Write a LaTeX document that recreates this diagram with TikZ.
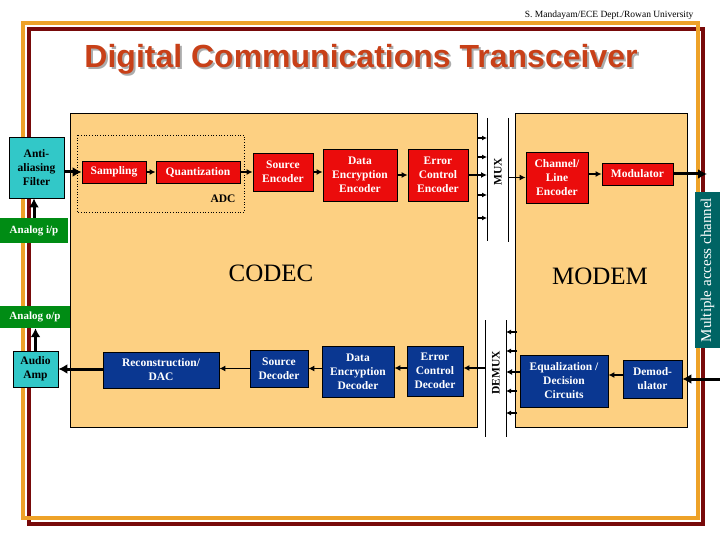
\documentclass[tikz,border=0pt]{standalone}
\usepackage{fontspec}
\setmainfont{Liberation Serif}
\newfontfamily\titlefont{Liberation Sans}
\usetikzlibrary{arrows.meta,calc}

\definecolor{framegold}{RGB}{238,162,40}
\definecolor{framemaroon}{RGB}{120,10,10}
\definecolor{panel}{RGB}{253,208,130}
\definecolor{blockred}{RGB}{235,12,12}
\definecolor{blockblue}{RGB}{10,55,145}
\definecolor{blockcyan}{RGB}{50,200,200}
\definecolor{lblgreen}{RGB}{0,140,20}
\definecolor{chteal}{RGB}{0,100,100}
\definecolor{titlered}{RGB}{200,64,24}

\tikzset{
 blk/.style={draw=black,line width=0.8pt,align=center,inner sep=1pt,font=\bfseries\fontsize{11.5}{14}\selectfont},
 redblk/.style={blk,fill=blockred,text=white},
 blueblk/.style={blk,fill=blockblue,text=white},
 cyanblk/.style={blk,fill=blockcyan,text=black},
 iolbl/.style={fill=lblgreen,text=white,inner sep=0pt,font=\bfseries\fontsize{11}{13}\selectfont},
 arr/.style={-{Latex[length=6pt,width=6pt]},line width=1.7pt},
 bigarr/.style={-{Latex[length=9pt,width=10pt]},line width=3pt},
 tickarr/.style={-{Latex[length=5pt,width=5pt]},line width=1.2pt},
}

\begin{document}
\begin{tikzpicture}[x=1pt,y=-1pt]
\useasboundingbox (0,0) rectangle (720,540);
%
\node[anchor=east,font=\fontsize{9.5}{11}\selectfont] (credit) at (697,15) {S. Mandayam/ECE Dept./Rowan University};
%
\draw[framemaroon,line width=4pt] (29,29) rectangle (703,523.5);
\draw[framegold,line width=4pt] (23,23) rectangle (697.5,517.5);
%
\node[text=gray!65,font=\titlefont\bfseries\fontsize{32}{36}\selectfont] at (363,61.5) {Digital Communications Transceiver};
\node[text=titlered,font=\titlefont\bfseries\fontsize{32}{36}\selectfont] (title) at (361,59.5) {Digital Communications Transceiver};
%
\filldraw[fill=panel,line width=0.8pt] (70,113) rectangle (477,427);
\filldraw[fill=panel,line width=0.8pt] (515,113) rectangle (687,427);
\draw[dotted,line width=0.7pt] (77,135) rectangle (244,212);
\node[font=\bfseries\fontsize{11.5}{14}\selectfont] (adc) at (223,199) {ADC};
\node[font=\fontsize{25}{30}\selectfont] (codec) at (271,273) {CODEC};
\node[font=\fontsize{25}{30}\selectfont] (modem) at (600,276) {MODEM};
%
% mux / demux rails
\coordinate (muxL) at (487,118); \coordinate (muxLb) at (487,241);
\coordinate (muxR) at (508,118); \coordinate (muxRb) at (508,242);
\coordinate (dmxL) at (485,320); \coordinate (dmxLb) at (485,437);
\coordinate (dmxR) at (506,320); \coordinate (dmxRb) at (506,437);
\draw[line width=0.8pt] (muxL)--(muxLb) (muxR)--(muxRb) (dmxL)--(dmxLb) (dmxR)--(dmxRb);
\node[rotate=90,font=\bfseries\fontsize{11.5}{14}\selectfont] (mux) at (498,172) {MUX};
\node[rotate=90,font=\bfseries\fontsize{11.5}{14}\selectfont] (demux) at (496,373) {DEMUX};
%
% transmit chain
\node[cyanblk,minimum width=55pt,minimum height=61pt] (filt) at (36.5,167.5) {Anti-\\aliasing\\Filter};
\node[redblk,minimum width=64pt,minimum height=22pt] (samp) at (114,172) {Sampling};
\node[redblk,minimum width=84pt,minimum height=22pt] (quant) at (198,172) {Quantization};
\node[redblk,minimum width=60pt,minimum height=38pt] (srcenc) at (283,172) {Source\\Encoder};
\node[redblk,minimum width=74pt,minimum height=52pt] (dee) at (360,175) {Data\\Encryption\\Encoder};
\node[redblk,minimum width=60pt,minimum height=52pt] (ece) at (438,175) {Error\\Control\\Encoder};
\node[redblk,minimum width=62pt,minimum height=51pt] (chenc) at (557,177.5) {Channel/\\Line\\Encoder};
\node[redblk,minimum width=71pt,minimum height=22pt] (mod) at (637.5,174) {Modulator};
%
% receive chain
\node[cyanblk,minimum width=45pt,minimum height=36pt] (amp) at (35.5,369) {Audio\\Amp};
\node[blueblk,minimum width=116pt,minimum height=36pt] (recon) at (161,370) {Reconstruction/\\DAC};
\node[blueblk,minimum width=58pt,minimum height=37pt] (srcdec) at (279,368.5) {Source\\Decoder};
\node[blueblk,minimum width=72pt,minimum height=51pt] (ded) at (358,371.5) {Data\\Encryption\\Decoder};
\node[blueblk,minimum width=56pt,minimum height=50pt] (ecd) at (435,371) {Error\\Control\\Decoder};
\node[blueblk,minimum width=88pt,minimum height=52pt] (eq) at (564,381) {Equalization /\\Decision\\Circuits};
\node[blueblk,minimum width=59pt,minimum height=38pt] (demod) at (652.5,379) {Demod-\\ulator};
%
\node[iolbl,minimum width=68pt,minimum height=25pt] (aip) at (34,230.5) {Analog i/p};
\node[iolbl,minimum width=70pt,minimum height=22pt] (aop) at (35,317) {Analog o/p};
\node[fill=chteal,text=white,rotate=90,inner sep=0pt,minimum width=156pt,minimum height=25pt,font=\fontsize{15}{18}\selectfont] (mac) at (707.5,270) {Multiple access channel};
\coordinate (chout) at (707,174);
\coordinate (chin) at (720,379);
%
% connectors, transmit
\draw[bigarr] (aip.north) -- (aip.north |- filt.south);
\draw[bigarr] (filt.east |- samp.west) -- (samp.west);
\draw[arr] (samp.east) -- (quant.west);
\draw[arr] (quant.east) -- (srcenc.west);
\draw[arr] (srcenc.east) -- (srcenc.east -| dee.west);
\draw[arr] (dee.east) -- (ece.west);
\draw[arr] (ece.east) -- (ece.east -| muxL);
\draw[arr] (chenc.west -| muxR) -- (chenc.west);
\draw[arr] (mod.west -| chenc.east) -- (mod.west);
\draw[bigarr] (mod.east) -- (mod.east -| chout);
%
\draw[tickarr] (478,138) -- (muxL |- 0,138);
\draw[tickarr] (478,157) -- (muxL |- 0,157);
\draw[tickarr] (478,195) -- (muxL |- 0,195);
\draw[tickarr] (478,218) -- (muxL |- 0,218);
%
% connectors, receive
\draw[bigarr] (chin |- demod.east) -- (demod.east);
\draw[arr] ([yshift=4pt]demod.west) -- ([yshift=4pt]demod.west -| eq.east);
\draw[arr] ([yshift=9pt]eq.west) -- ([yshift=9pt]eq.west -| dmxR);
\draw[arr] ([yshift=3pt]ecd.east -| dmxL) -- ([yshift=3pt]ecd.east);
\draw[arr] ([yshift=3pt]ecd.west) -- ([yshift=3pt]ecd.west -| ded.east);
\draw[arr] ([yshift=3pt]ded.west) -- ([yshift=3pt]ded.west -| srcdec.east);
\draw[arr] (srcdec.west) -- (srcdec.west -| recon.east);
\draw[bigarr] ([yshift=1pt]recon.west) -- ([yshift=1pt]recon.west -| amp.east);
\draw[bigarr] (amp.north) -- (amp.north |- aop.south);
%
\draw[tickarr] (517,332) -- (dmxR |- 0,332);
\draw[tickarr] (517,351) -- (dmxR |- 0,351);
\draw[tickarr] (517,391) -- (dmxR |- 0,391);
\draw[tickarr] (517,413) -- (dmxR |- 0,413);
\end{tikzpicture}
\end{document}
